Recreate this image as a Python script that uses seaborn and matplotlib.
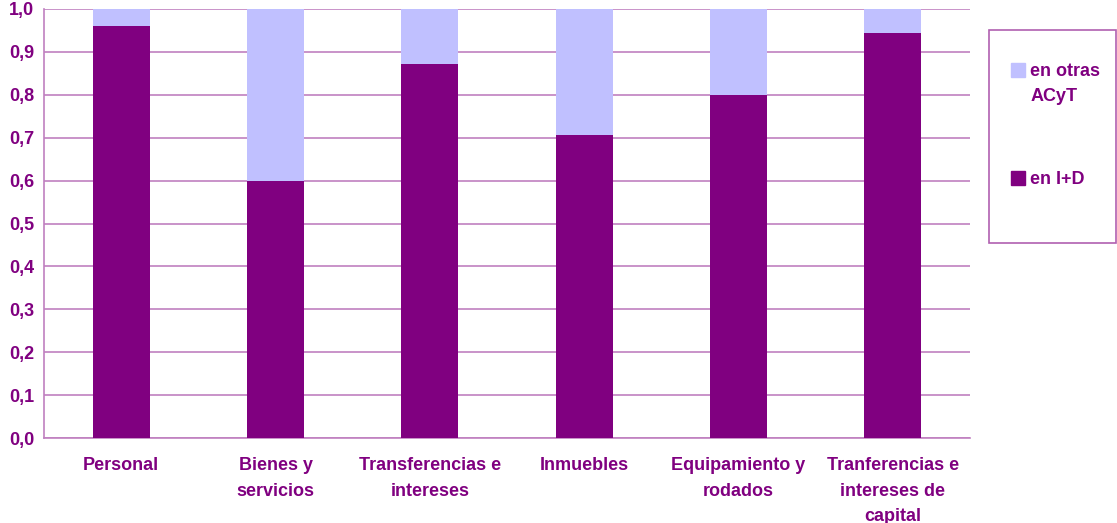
import pandas as pd
import matplotlib.pyplot as plt
import seaborn as sns
from matplotlib.patches import Rectangle, Patch

# share of spending in I+D vs other ACyT, by type of expense
categories = ["Personal", "Bienes y\nservicios", "Transferencias e\nintereses",
              "Inmuebles", "Equipamiento y\nrodados",
              "Tranferencias e\nintereses de\ncapital"]
en_id = [0.96, 0.60, 0.872, 0.706, 0.80, 0.944]
en_otras = [round(1 - v, 3) for v in en_id]

DARK = "#800080"
LIGHT = "#C0C0FF"
GRID = "#C080C0"
FS = 13

sns.set_style("white")
plt.rcParams["font.family"] = ["Liberation Sans", "DejaVu Sans"]

df = pd.DataFrame({"cat": categories, "id": en_id, "otras": en_otras})
df["total"] = df["id"] + df["otras"]

fig = plt.figure(figsize=(11.17, 5.23), dpi=100)
ax = fig.add_axes([0.0394, 0.1625, 0.8290, 0.8203])

sns.barplot(data=df, x="cat", y="total", color=LIGHT, width=0.37,
            saturation=1, linewidth=0, ax=ax, zorder=3)
sns.barplot(data=df, x="cat", y="id", color=DARK, width=0.37,
            saturation=1, linewidth=0, ax=ax, zorder=3)

ax.set_ylim(0, 1.0)
ax.set_xlim(-0.5, len(categories) - 0.5)
ax.set_yticks([i / 10 for i in range(11)])
ax.set_yticklabels([f"{i / 10:.1f}".replace(".", ",") for i in range(11)])
ax.yaxis.grid(True, color=GRID, linewidth=1.2, zorder=0)
ax.set_axisbelow(True)
ax.set_xlabel("")
ax.set_ylabel("")

for s in ["top", "right"]:
    ax.spines[s].set_visible(False)
for s in ["left", "bottom"]:
    ax.spines[s].set_color(GRID)
    ax.spines[s].set_linewidth(1.2)

ax.set_xticks(range(len(categories)))
ax.set_xticklabels(categories, fontsize=FS, fontweight="bold", color=DARK,
                   va="top", linespacing=1.62)
ax.set_xticks([i - 0.5 for i in range(len(categories) + 1)], minor=True)
ax.tick_params(axis="x", which="major", length=0, pad=14)
ax.tick_params(axis="x", which="minor", length=5, color=GRID, width=1.2,
               direction="out")
ax.tick_params(axis="y", length=4, color=GRID, width=1.2, direction="out",
               labelsize=FS, labelcolor=DARK, pad=3)
for lbl in ax.get_yticklabels():
    lbl.set_fontweight("bold")

# legend box
fig.patches.append(Rectangle((989 / 1117, 1 - 243 / 523), 127 / 1117,
                             213 / 523, transform=fig.transFigure,
                             fill=False, edgecolor="#B060B0", linewidth=1.2))
prop = {"weight": "bold", "size": FS}
leg1 = fig.legend([Patch(color=LIGHT), Patch(color="none")],
                  ["en otras", "ACyT"], loc="upper left",
                  bbox_to_anchor=(995 / 1117, 1 - 47 / 523), frameon=False,
                  handlelength=0.75, handleheight=0.75, handletextpad=0.3,
                  labelspacing=0.45, prop=prop)
leg2 = fig.legend([Patch(color=DARK)], ["en I+D"], loc="upper left",
                  bbox_to_anchor=(995 / 1117, 1 - 155 / 523), frameon=False,
                  handlelength=0.75, handleheight=0.75, handletextpad=0.3,
                  prop=prop)
for leg in (leg1, leg2):
    for t in leg.get_texts():
        t.set_color(DARK)

fig.savefig("out.png", dpi=100)
